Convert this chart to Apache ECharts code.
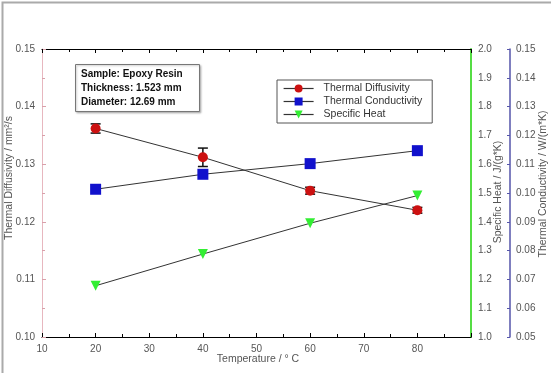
<!DOCTYPE html>
<html><head><meta charset="utf-8">
<script src="https://cdn.jsdelivr.net/npm/echarts@6/dist/echarts.min.js"></script>
<style>html,body{margin:0;padding:0;background:#fff}#c{width:551px;height:373px}</style>
</head><body><div id="c"></div>
<script>
var temperatures = [20, 40, 60, 80];
var diffusivity = [0.1362, 0.1312, 0.1254, 0.1220];
var diffusivityErr = [0.0008, 0.0016, 0.0006, 0.0005];
var conductivity = [0.1013, 0.1065, 0.1102, 0.1147];
var specificHeat = [1.178, 1.288, 1.395, 1.491];
var seriesNames = ['Thermal Diffusivity', 'Thermal Conductivity', 'Specific Heat'];
var sampleInfo = ['Sample: Epoxy Resin', 'Thickness: 1.523 mm', 'Diameter: 12.69 mm'];

function pairs(vals){ return temperatures.map(function(t,i){ return [t, vals[i]]; }); }
var errData = temperatures.map(function(t,i){ return [t, diffusivity[i]-diffusivityErr[i], diffusivity[i]+diffusivityErr[i]]; });

var FONT = 'Liberation Sans, Arial, sans-serif';
var lbl = {color:'#555', fontSize:10, fontFamily:FONT};
var chart = echarts.init(document.getElementById('c'));
chart.setOption({
  animation:false,
  backgroundColor:'#fff',
  grid:{left:42, top:49, right:80, bottom:36, containLabel:false},
  xAxis:[{
    type:'value', min:10, max:90, interval:10, position:'bottom',
    axisLine:{lineStyle:{color:'#000', width:1.2}},
    axisTick:{inside:true, length:4, lineStyle:{color:'#000'}},
    minorTick:{show:true, splitNumber:2, length:3, lineStyle:{color:'#000'}},
    splitLine:{show:false},
    axisLabel:Object.assign({margin:7, formatter:function(v){return v===90?'':String(v);}}, lbl)
  },{
    type:'value', min:10, max:90, interval:10, position:'top',
    axisLine:{lineStyle:{color:'#000', width:1.2}},
    axisTick:{inside:true, length:4, lineStyle:{color:'#000'}},
    minorTick:{show:true, splitNumber:2, length:3, lineStyle:{color:'#000'}},
    splitLine:{show:false}, axisLabel:{show:false}
  }],
  yAxis:[{
    type:'value', min:0.10, max:0.15, interval:0.01, position:'left',
    axisLine:{show:true, lineStyle:{color:'#e7b7bf', width:1}},
    axisTick:{show:true, inside:true, length:4, lineStyle:{color:'#d9a0aa'}},
    minorTick:{show:true, splitNumber:2, length:3, lineStyle:{color:'#d9a0aa'}},
    splitLine:{show:false},
    axisLabel:Object.assign({margin:7, formatter:function(v){return v.toFixed(2);}}, lbl)
  },{
    type:'value', min:1.0, max:2.0, interval:0.1, position:'right',
    axisLine:{show:true, lineStyle:{color:'#55dd44', width:2}},
    axisTick:{show:false}, splitLine:{show:false},
    axisLabel:Object.assign({margin:7, formatter:function(v){return v.toFixed(1);}}, lbl)
  },{
    type:'value', min:0.05, max:0.15, interval:0.01, position:'right', offset:39,
    axisLine:{show:true, lineStyle:{color:'#5555aa', width:1.5}},
    axisTick:{show:true, inside:true, length:3, lineStyle:{color:'#5555aa'}},
    splitLine:{show:false},
    axisLabel:Object.assign({margin:6, formatter:function(v){return v.toFixed(2);}}, lbl)
  }],
  legend:{
    orient:'vertical', left:277, top:80,
    data:seriesNames,
    backgroundColor:'#fff', borderColor:'#555', borderWidth:1,
    padding:[3,10,3,6], itemGap:2, itemWidth:30, itemHeight:10,
    lineStyle:{width:1.2},
    textStyle:{color:'#333', fontSize:10.5, fontFamily:FONT, padding:[0,0,0,5]}
  },
  series:[{
    name:seriesNames[0], type:'line', xAxisIndex:0, yAxisIndex:0, data:pairs(diffusivity),
    symbol:'circle', symbolSize:10, z:5,
    lineStyle:{color:'#333', width:1}, itemStyle:{color:'#cc1111'}
  },{
    type:'custom', xAxisIndex:0, yAxisIndex:0, data:errData, z:4,
    renderItem:function(params, api){
      var x = api.value(0);
      var lo = api.coord([x, api.value(1)]);
      var hi = api.coord([x, api.value(2)]);
      var w = 5;
      var st = {stroke:'#111', lineWidth:1.5};
      return {type:'group', children:[
        {type:'line', shape:{x1:lo[0], y1:lo[1], x2:hi[0], y2:hi[1]}, style:st},
        {type:'line', shape:{x1:lo[0]-w, y1:lo[1], x2:lo[0]+w, y2:lo[1]}, style:st},
        {type:'line', shape:{x1:hi[0]-w, y1:hi[1], x2:hi[0]+w, y2:hi[1]}, style:st}
      ]};
    }
  },{
    name:seriesNames[1], type:'line', xAxisIndex:0, yAxisIndex:2, data:pairs(conductivity),
    symbol:'rect', symbolSize:11, z:5,
    lineStyle:{color:'#333', width:1}, itemStyle:{color:'#1111cc'}
  },{
    name:seriesNames[2], type:'line', xAxisIndex:0, yAxisIndex:1, data:pairs(specificHeat),
    symbol:'triangle', symbolRotate:180, symbolSize:10, z:5,
    lineStyle:{color:'#333', width:1}, itemStyle:{color:'#33ee33'}
  }],
  graphic:[
    {type:'rect', left:0, top:0, shape:{width:550, height:372}, style:{fill:'none', stroke:'#aaa', lineWidth:2}, silent:true},
    {type:'rect', left:75, top:64, shape:{width:124, height:47}, style:{fill:'#fff', stroke:'#777', lineWidth:1, shadowBlur:2, shadowColor:'rgba(0,0,0,0.25)', shadowOffsetX:1, shadowOffsetY:1}},
    {type:'text', left:81, top:67, style:{text:sampleInfo.join('\n'), fill:'#111', font:'bold 10px '+FONT, lineHeight:14}},
    {type:'text', x:9, y:178, rotation:Math.PI/2, style:{text:'Thermal Diffusivity / mm\u00b2/s', fill:'#555', font:'10.5px '+FONT, align:'center', verticalAlign:'middle'}},
    {type:'text', x:498, y:192, rotation:Math.PI/2, style:{text:'Specific Heat / J/(g*K)', fill:'#555', font:'10.5px '+FONT, align:'center', verticalAlign:'middle'}},
    {type:'text', x:543, y:184, rotation:Math.PI/2, style:{text:'Thermal Conductivity / W/(m*K)', fill:'#555', font:'10.5px '+FONT, align:'center', verticalAlign:'middle'}},
    {type:'text', x:258, y:359, style:{text:'Temperature / \u00b0 C', fill:'#555', font:'10.5px '+FONT, align:'center', verticalAlign:'middle'}}
  ]
});
</script></body></html>
